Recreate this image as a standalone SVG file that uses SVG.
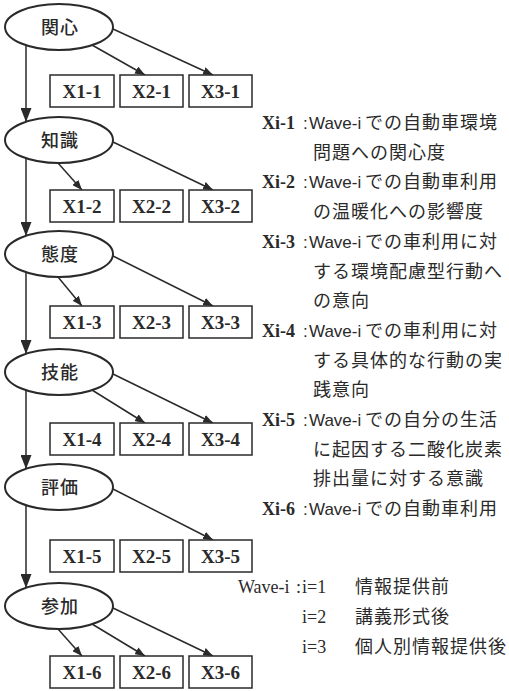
<svg xmlns="http://www.w3.org/2000/svg" width="509" height="691" viewBox="0 0 509 691">
<style>
.ell{fill:#fff;stroke:#2a2a2a;stroke-width:2}
.box{fill:#fff;stroke:#2a2a2a;stroke-width:1.5}
.lt{font-family:"Noto Sans CJK JP","Noto Sans CJK SC",sans-serif;font-size:18px;font-weight:500;fill:#2a2a2a;text-anchor:middle;letter-spacing:1px}
.bx{font-family:"Liberation Serif",serif;font-size:19px;font-weight:bold;fill:#2a2a2a;text-anchor:middle}
.con line{stroke:#2a2a2a;stroke-width:1.5;fill:none}
.xi{font-family:"Liberation Serif",serif;font-size:18px;font-weight:bold;fill:#2a2a2a}
.sn{font-family:"Liberation Sans",sans-serif;font-size:17px;fill:#2a2a2a}
.sr{font-family:"Liberation Serif",serif;font-size:18px;fill:#2a2a2a}
.jp{font-family:"Noto Sans CJK JP","Noto Sans CJK SC",sans-serif;font-size:18px;fill:#2a2a2a;letter-spacing:1px}
</style>
<defs>
<marker id="ah" markerUnits="userSpaceOnUse" markerWidth="10" markerHeight="8" refX="10" refY="4" orient="auto"><path d="M0,0 L10,4 L0,8 z" fill="#2a2a2a"/></marker>
<marker id="av" markerUnits="userSpaceOnUse" markerWidth="14" markerHeight="11" refX="14" refY="5.5" orient="auto"><path d="M0,0 L14,5.5 L0,11 z" fill="#2a2a2a"/></marker>
</defs>
<rect width="509" height="691" fill="#fff"/>
<g class="con" id="connectors">
<line x1="26" y1="45" x2="26" y2="122" marker-end="url(#av)"/>
<line x1="26" y1="158" x2="26" y2="236" marker-end="url(#av)"/>
<line x1="26" y1="272" x2="26" y2="354" marker-end="url(#av)"/>
<line x1="26" y1="390" x2="26" y2="469" marker-end="url(#av)"/>
<line x1="26" y1="505" x2="26" y2="588" marker-end="url(#av)"/>
<line x1="92" y1="45" x2="145" y2="75" marker-end="url(#ah)"/>
<line x1="113" y1="29" x2="213" y2="75" marker-end="url(#ah)"/>
<line x1="58" y1="163" x2="82" y2="190" marker-end="url(#ah)"/>
<line x1="113" y1="142" x2="213" y2="190" marker-end="url(#ah)"/>
<line x1="58" y1="277" x2="82" y2="306" marker-end="url(#ah)"/>
<line x1="113" y1="256" x2="213" y2="306" marker-end="url(#ah)"/>
<line x1="92" y1="390" x2="145" y2="423" marker-end="url(#ah)"/>
<line x1="113" y1="374" x2="213" y2="423" marker-end="url(#ah)"/>
<line x1="113" y1="489" x2="213" y2="540" marker-end="url(#ah)"/>
<line x1="58" y1="629" x2="82" y2="656" marker-end="url(#ah)"/>
<line x1="92" y1="624" x2="145" y2="656" marker-end="url(#ah)"/>
<line x1="113" y1="608" x2="213" y2="656" marker-end="url(#ah)"/>
</g>
<g id="n-kanshin"><ellipse class="ell" cx="59" cy="27" rx="54" ry="23"/><text class="lt" x="60" y="34">関心</text></g>
<g id="n-chishiki"><ellipse class="ell" cx="59" cy="140" rx="54" ry="23"/><text class="lt" x="60" y="147">知識</text></g>
<g id="n-taido"><ellipse class="ell" cx="59" cy="254" rx="54" ry="23"/><text class="lt" x="60" y="261">態度</text></g>
<g id="n-ginou"><ellipse class="ell" cx="59" cy="372" rx="54" ry="23"/><text class="lt" x="60" y="379">技能</text></g>
<g id="n-hyouka"><ellipse class="ell" cx="59" cy="487" rx="54" ry="23"/><text class="lt" x="60" y="494">評価</text></g>
<g id="n-sanka"><ellipse class="ell" cx="59" cy="606" rx="54" ry="23"/><text class="lt" x="60" y="613">参加</text></g>
<g id="b-x1-1"><rect class="box" x="50" y="75" width="64" height="32"/><text class="bx" x="82" y="98">X1-1</text></g>
<g id="b-x2-1"><rect class="box" x="120" y="75" width="63" height="32"/><text class="bx" x="151.5" y="98">X2-1</text></g>
<g id="b-x3-1"><rect class="box" x="189" y="75" width="63" height="32"/><text class="bx" x="220.5" y="98">X3-1</text></g>
<g id="b-x1-2"><rect class="box" x="50" y="190" width="64" height="32"/><text class="bx" x="82" y="213">X1-2</text></g>
<g id="b-x2-2"><rect class="box" x="120" y="190" width="63" height="32"/><text class="bx" x="151.5" y="213">X2-2</text></g>
<g id="b-x3-2"><rect class="box" x="189" y="190" width="63" height="32"/><text class="bx" x="220.5" y="213">X3-2</text></g>
<g id="b-x1-3"><rect class="box" x="50" y="306" width="64" height="32"/><text class="bx" x="82" y="329">X1-3</text></g>
<g id="b-x2-3"><rect class="box" x="120" y="306" width="63" height="32"/><text class="bx" x="151.5" y="329">X2-3</text></g>
<g id="b-x3-3"><rect class="box" x="189" y="306" width="63" height="32"/><text class="bx" x="220.5" y="329">X3-3</text></g>
<g id="b-x1-4"><rect class="box" x="50" y="423" width="64" height="32"/><text class="bx" x="82" y="446">X1-4</text></g>
<g id="b-x2-4"><rect class="box" x="120" y="423" width="63" height="32"/><text class="bx" x="151.5" y="446">X2-4</text></g>
<g id="b-x3-4"><rect class="box" x="189" y="423" width="63" height="32"/><text class="bx" x="220.5" y="446">X3-4</text></g>
<g id="b-x1-5"><rect class="box" x="50" y="540" width="64" height="32"/><text class="bx" x="82" y="563">X1-5</text></g>
<g id="b-x2-5"><rect class="box" x="120" y="540" width="63" height="32"/><text class="bx" x="151.5" y="563">X2-5</text></g>
<g id="b-x3-5"><rect class="box" x="189" y="540" width="63" height="32"/><text class="bx" x="220.5" y="563">X3-5</text></g>
<g id="b-x1-6"><rect class="box" x="50" y="656" width="64" height="32"/><text class="bx" x="82" y="679">X1-6</text></g>
<g id="b-x2-6"><rect class="box" x="120" y="656" width="63" height="32"/><text class="bx" x="151.5" y="679">X2-6</text></g>
<g id="b-x3-6"><rect class="box" x="189" y="656" width="63" height="32"/><text class="bx" x="220.5" y="679">X3-6</text></g>
<g id="legend">
<text y="129"><tspan class="xi" x="262">Xi-1</tspan><tspan class="sn" x="303">:</tspan><tspan class="sn" x="309">Wave-i</tspan><tspan class="jp" x="365">での自動車環境</tspan></text>
<text class="jp" x="313" y="159">問題への関心度</text>
<text y="188"><tspan class="xi" x="262">Xi-2</tspan><tspan class="sn" x="303">:</tspan><tspan class="sn" x="309">Wave-i</tspan><tspan class="jp" x="365">での自動車利用</tspan></text>
<text class="jp" x="313" y="218">の温暖化への影響度</text>
<text y="248"><tspan class="xi" x="262">Xi-3</tspan><tspan class="sn" x="303">:</tspan><tspan class="sn" x="309">Wave-i</tspan><tspan class="jp" x="365">での車利用に対</tspan></text>
<text class="jp" x="313" y="278">する環境配慮型行動へ</text>
<text class="jp" x="313" y="307">の意向</text>
<text y="337"><tspan class="xi" x="262">Xi-4</tspan><tspan class="sn" x="303">:</tspan><tspan class="sn" x="309">Wave-i</tspan><tspan class="jp" x="365">での車利用に対</tspan></text>
<text class="jp" x="313" y="367">する具体的な行動の実</text>
<text class="jp" x="313" y="396">践意向</text>
<text y="426"><tspan class="xi" x="262">Xi-5</tspan><tspan class="sn" x="303">:</tspan><tspan class="sn" x="309">Wave-i</tspan><tspan class="jp" x="365">での自分の生活</tspan></text>
<text class="jp" x="313" y="456">に起因する二酸化炭素</text>
<text class="jp" x="313" y="485">排出量に対する意識</text>
<text y="515"><tspan class="xi" x="262">Xi-6</tspan><tspan class="sn" x="303">:</tspan><tspan class="sn" x="309">Wave-i</tspan><tspan class="jp" x="365">での自動車利用</tspan></text>
<text y="593"><tspan class="sr" x="238">Wave-i</tspan><tspan class="sr" x="296">:</tspan><tspan class="sr" x="302">i=1</tspan><tspan class="jp" x="355">情報提供前</tspan></text>
<text y="623"><tspan class="sr" x="302">i=2</tspan><tspan class="jp" x="355">講義形式後</tspan></text>
<text y="653"><tspan class="sr" x="302">i=3</tspan><tspan class="jp" x="355">個人別情報提供後</tspan></text>
</g>
</svg>
